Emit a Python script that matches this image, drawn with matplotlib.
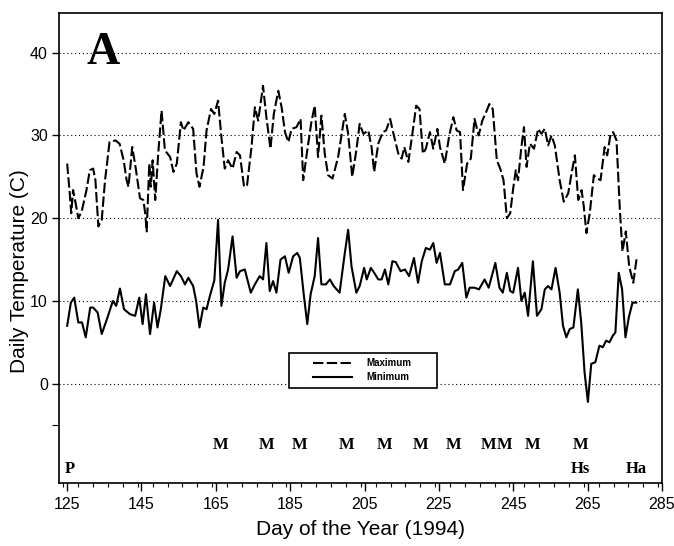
import matplotlib
matplotlib.use("Agg")
import matplotlib.pyplot as plt
from matplotlib.patches import Rectangle
from matplotlib.ticker import FixedLocator, MultipleLocator

# Daily maximum temperature (C)
max_days = [125.0, 125.7, 126.1, 126.6, 127.2, 128.0, 128.9, 130.2, 131.1, 132.0,
            132.6, 133.4, 134.3, 135.2, 136.4, 138.0, 139.1, 140.2, 141.0, 141.5,
            142.5, 143.4, 144.6, 145.5, 146.0, 146.4, 147.1, 147.5, 148.0, 148.7,
            149.5, 150.4, 151.3, 152.7, 153.6, 154.5, 155.6, 156.3, 157.6, 158.9,
            159.8, 160.6, 161.7, 162.5, 163.7, 164.6, 165.6, 166.5, 167.4, 168.3,
            169.5, 170.6, 171.5, 172.6, 173.4, 174.6, 175.5, 176.4, 177.7, 178.6,
            179.7, 180.6, 181.8, 182.7, 183.6, 184.5, 185.4, 186.7, 187.8, 188.5,
            189.6, 190.7, 191.6, 192.5, 193.4, 194.3, 195.2, 196.4, 197.9, 199.7,
            200.6, 201.7, 202.8, 203.7, 204.7, 206.0, 206.9, 207.6, 208.7, 209.9,
            210.8, 211.9, 212.8, 214.1, 215.0, 215.7, 216.8, 218.0, 218.9, 219.8,
            220.7, 221.5, 222.6, 223.5, 224.6, 225.3, 226.6, 227.8, 228.9, 229.8,
            230.7, 231.5, 232.6, 233.6, 234.6, 235.7, 236.7, 237.7, 238.6, 239.5,
            240.6, 241.5, 242.4, 243.3, 244.2, 245.0, 245.7, 246.3, 247.2, 247.9,
            248.6, 249.5, 250.6, 251.7, 252.6, 253.5, 254.4, 255.3, 256.2, 257.5,
            258.6, 259.8, 260.7, 261.6, 262.5, 263.4, 264.0, 264.7, 265.6, 266.7,
            267.6, 268.5, 269.6, 270.3, 271.2, 271.9, 272.8, 273.7, 274.4, 275.3,
            276.2, 277.3, 278.3]
max_temp = [26.6, 23.0, 20.6, 23.4, 22.0, 20.0, 20.8, 23.4, 25.8, 26.0,
            24.6, 19.0, 19.8, 24.6, 29.2, 29.4, 29.0, 27.0, 24.6, 23.8,
            28.6, 26.2, 22.4, 22.2, 20.6, 18.4, 26.6, 23.8, 27.0, 22.2,
            27.8, 33.0, 28.2, 27.4, 25.6, 26.6, 31.6, 30.6, 31.6, 30.8,
            25.4, 23.8, 26.2, 30.6, 33.2, 32.6, 34.2, 29.8, 26.0, 27.0,
            26.0, 28.0, 27.6, 23.8, 24.0, 28.6, 33.4, 31.8, 36.0, 32.2,
            28.4, 32.6, 35.4, 33.4, 30.4, 29.2, 30.8, 31.0, 32.0, 24.6,
            28.2, 31.6, 33.6, 27.4, 32.4, 27.8, 25.2, 24.8, 27.4, 32.6,
            30.2, 25.0, 28.2, 31.4, 30.2, 30.6, 28.6, 25.6, 29.0, 30.4,
            30.6, 32.0, 30.2, 27.8, 27.2, 28.6, 26.8, 30.6, 33.6, 33.2,
            27.8, 28.4, 30.4, 28.4, 30.8, 28.6, 26.6, 30.0, 32.2, 30.6,
            30.4, 23.4, 26.6, 27.2, 32.0, 30.0, 31.8, 32.8, 33.8, 33.2,
            27.0, 26.0, 24.6, 20.0, 20.6, 23.6, 25.8, 24.6, 28.6, 31.0,
            26.2, 29.0, 28.4, 30.8, 30.2, 30.8, 28.8, 30.0, 28.8, 24.6,
            22.0, 23.0, 25.4, 27.6, 22.2, 23.4, 21.4, 18.2, 20.6, 25.2,
            24.8, 24.6, 28.6, 27.6, 30.2, 30.4, 29.4, 21.0, 16.0, 18.4,
            14.2, 12.2, 15.4]

# Daily minimum temperature (C)
min_days = [125.0, 126.0, 126.9, 128.0, 129.0, 130.0, 131.2, 132.0, 133.2, 134.3,
            135.7, 137.3, 138.2, 139.2, 140.3, 141.9, 143.3, 144.4, 145.3, 146.2,
            147.3, 148.4, 149.3, 150.2, 151.4, 152.7, 154.5, 155.6, 156.7, 157.6,
            158.9, 159.7, 160.6, 161.6, 162.5, 163.4, 164.6, 165.6, 166.5, 167.4,
            168.3, 169.5, 170.6, 171.5, 172.8, 174.4, 175.5, 176.8, 177.7, 178.6,
            179.5, 180.4, 181.3, 182.4, 183.6, 184.6, 185.8, 186.9, 187.6, 188.7,
            189.6, 190.5, 191.6, 192.5, 193.4, 194.6, 195.7, 196.7, 198.3, 199.7,
            200.6, 201.5, 202.8, 203.7, 204.9, 205.6, 206.7, 207.6, 208.7, 209.6,
            210.5, 211.4, 212.5, 213.4, 214.7, 215.9, 217.0, 218.3, 219.4, 220.4,
            221.5, 222.6, 223.5, 224.4, 225.3, 226.6, 228.0, 229.3, 230.2, 231.3,
            232.4, 233.3, 234.6, 235.8, 237.3, 238.4, 240.2, 241.3, 242.2, 243.3,
            244.2, 245.0, 246.3, 247.2, 248.1, 249.0, 250.3, 251.4, 252.6, 253.5,
            254.4, 255.3, 256.4, 257.5, 258.4, 259.3, 260.2, 261.2, 262.4, 263.3,
            264.2, 265.1, 266.0, 267.1, 268.2, 269.1, 270.0, 270.9, 271.8, 272.5,
            273.4, 274.3, 275.2, 276.1, 277.1, 278.1]
min_temp = [7.0, 9.8, 10.4, 7.4, 7.4, 5.6, 9.2, 9.2, 8.6, 6.0,
            7.8, 10.0, 9.4, 11.5, 9.0, 8.4, 8.2, 10.4, 7.2, 10.8,
            6.0, 9.8, 6.8, 9.0, 13.0, 11.8, 13.6, 13.0, 12.0, 12.8,
            11.8, 10.0, 6.8, 9.2, 9.0, 10.6, 12.5, 19.8, 9.4, 12.2,
            13.8, 17.8, 12.8, 13.6, 13.8, 11.0, 12.0, 13.0, 12.6, 17.0,
            11.2, 12.4, 11.0, 15.0, 15.4, 13.4, 15.4, 15.8, 15.2, 10.6,
            7.2, 10.8, 13.0, 17.6, 12.0, 12.0, 12.6, 11.8, 11.0, 15.8,
            18.6, 14.2, 11.0, 11.8, 14.0, 12.6, 14.0, 13.4, 12.6, 12.6,
            13.8, 12.0, 14.8, 14.7, 13.6, 13.8, 13.0, 15.2, 12.2, 14.8,
            16.4, 16.2, 17.0, 14.6, 15.8, 12.0, 12.0, 13.6, 13.8, 14.6,
            10.4, 11.6, 11.6, 11.4, 12.6, 11.6, 14.6, 11.6, 11.0, 13.4,
            11.2, 11.0, 14.0, 10.0, 11.0, 8.2, 14.8, 8.2, 9.0, 11.4,
            11.8, 11.4, 14.0, 11.0, 7.0, 5.6, 6.6, 6.8, 11.4, 7.4,
            1.4, -2.2, 2.4, 2.6, 4.6, 4.4, 5.2, 5.0, 5.8, 6.2,
            13.4, 11.4, 5.6, 8.0, 9.8, 9.8]

# Management events along the bottom of the panel
mow_days = [166.4, 178.6, 187.6, 200.3, 210.5, 220.2, 229.0, 238.4, 242.7, 250.3, 263.2]
other_days = [125.8, 263.2, 278.0]
other_labels = ["P", "Hs", "Ha"]

x_ticks = [125, 145, 165, 185, 205, 225, 245, 265, 285]
y_ticks = [0, 10, 20, 30, 40]

sans = "Liberation Sans"
serif = "Liberation Serif"

fig = plt.figure(figsize=(6.74, 5.46), dpi=100)
ax = fig.add_axes([0.0875, 0.1154, 0.8945, 0.8608])

# dotted reference lines
for yv in y_ticks:
    ax.axhline(yv, color="black", lw=0.8, ls=(0, (1, 2.5)), zorder=1)

ax.plot(max_days, max_temp, color="black", lw=1.5, ls=(0, (5, 1.6)),
        label="Maximum", zorder=3)
ax.plot(min_days, min_temp, color="black", lw=1.5, ls="-",
        label="Minimum", zorder=3)

ax.set_xlim(122.8, 285)
ax.set_ylim(-12, 44.8)

ax.xaxis.set_major_locator(FixedLocator(x_ticks))
ax.xaxis.set_minor_locator(MultipleLocator(4))
ax.yaxis.set_major_locator(FixedLocator(y_ticks))
ax.yaxis.set_minor_locator(FixedLocator([-5]))
ax.tick_params(axis="both", which="major", direction="out", length=5,
               width=1.0, labelsize=11.5, pad=3)
ax.tick_params(axis="x", which="major", length=6, pad=4)
ax.tick_params(axis="both", which="minor", direction="out", length=3, width=0.8)
ax.tick_params(axis="y", which="minor", length=5)
for lab in ax.get_xticklabels() + ax.get_yticklabels():
    lab.set_fontfamily(sans)

for sp in ax.spines.values():
    sp.set_linewidth(1.2)

ax.set_xlabel("Day of the Year (1994)", fontsize=15, family=sans, labelpad=6)
ax.set_ylabel("Daily Temperature (C)", fontsize=15, family=sans)
ax.yaxis.set_label_coords(-0.05, 0.45)

# panel letter
ax.text(0.045, 0.915, "A", transform=ax.transAxes, fontsize=33,
        fontweight="bold", family=serif, ha="left", va="center")

# event labels
for d in mow_days:
    ax.text(d, -7.4, "M", fontsize=12, fontweight="bold", family=serif,
            ha="center", va="center")
for d, s in zip(other_days, other_labels):
    ax.text(d, -10.3, s, fontsize=12, fontweight="bold", family=serif,
            ha="center", va="center")

# legend: square box drawn by hand, entries placed inside it
ax.add_patch(Rectangle((0.381, 0.202), 0.246, 0.075, transform=ax.transAxes,
                       facecolor="white", edgecolor="black", lw=1.2, zorder=4))
leg = ax.legend(loc="center left", bbox_to_anchor=(0.421, 0.240), frameon=False,
                handlelength=4.0, handletextpad=1.5, borderpad=0, borderaxespad=0,
                labelspacing=0.45,
                prop={"family": sans, "weight": "bold", "size": 7})
leg.set_zorder(5)

fig.savefig("out.png", dpi=100)
